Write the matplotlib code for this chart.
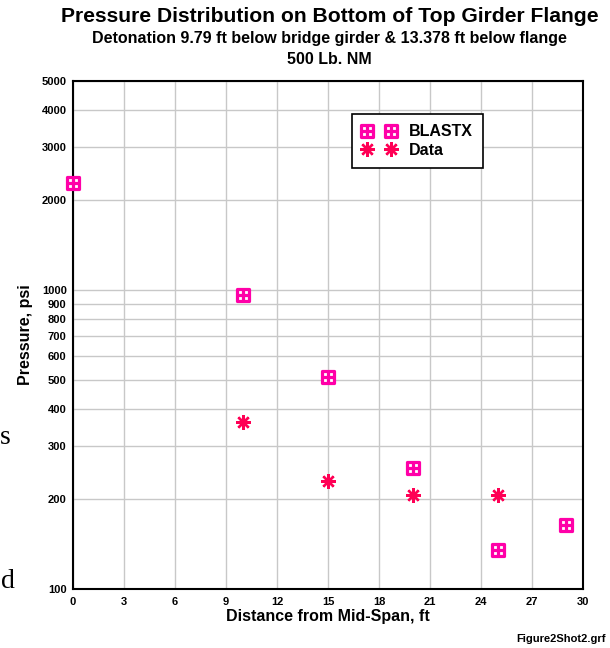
"""Pressure distribution on the bottom of the top girder flange: BLASTX vs. measured data."""

import matplotlib

matplotlib.use("Agg")
import matplotlib.pyplot as plt
from matplotlib.path import Path

# Distance from mid-span (ft) and peak pressure (psi)
blastx_x = [0, 10, 15, 20, 25, 29]
blastx_p = [2285, 962, 511, 254, 135, 164]
data_x = [10, 15, 20, 25]
data_p = [363, 230, 207, 207]

x_ticks = [0, 3, 6, 9, 12, 15, 18, 21, 24, 27, 30]
y_ticks = [100, 200, 300, 400, 500, 600, 700, 800, 900, 1000, 2000, 3000, 4000, 5000]

BLASTX_COLOR = "#ff00a8"
DATA_COLOR = "#ff0055"

plt.rcParams["font.family"] = ["Liberation Sans", "DejaVu Sans"]
plt.rcParams["font.weight"] = "bold"


def grid_square() -> Path:
    """Square with a cross inside, like the BLASTX symbol."""
    verts = [(-1, -1), (1, -1), (1, 1), (-1, 1), (-1, -1),
             (0, -1), (0, 1), (-1, 0), (1, 0)]
    codes = [Path.MOVETO, Path.LINETO, Path.LINETO, Path.LINETO, Path.CLOSEPOLY,
             Path.MOVETO, Path.LINETO, Path.MOVETO, Path.LINETO]
    return Path(verts, codes)


W, H = 610, 648
fig = plt.figure(figsize=(W / 100, H / 100), dpi=100)
ax = fig.add_axes([73 / W, 1 - 589 / H, 510 / W, 508 / H])

# The two series
ax.plot(blastx_x, blastx_p, linestyle="none", marker=grid_square(), markersize=8.2,
        markeredgewidth=2.3, markeredgecolor=BLASTX_COLOR, markerfacecolor="white",
        clip_on=False, zorder=5, label="BLASTX")
ax.plot(data_x, data_p, linestyle="none", marker=(8, 2, 0), markersize=10.5,
        markeredgewidth=1.7, color=DATA_COLOR, clip_on=False, zorder=5, label="Data")

# Axes, ticks and grid
ax.set_yscale("log")
ax.set_xlim(0, 30)
ax.set_ylim(100, 5000)
ax.set_xticks(x_ticks)
ax.set_xticklabels([str(v) for v in x_ticks])
ax.set_yticks(y_ticks)
ax.set_yticklabels([str(v) for v in y_ticks])
ax.yaxis.set_minor_locator(matplotlib.ticker.NullLocator())
ax.tick_params(axis="both", length=0, labelsize=8)
ax.tick_params(axis="x", pad=6)
ax.tick_params(axis="y", pad=4.5)
ax.grid(True, color="#c8c8c8", linewidth=1.0)
ax.set_axisbelow(True)
for spine in ax.spines.values():
    spine.set_linewidth(1.5)
    spine.set_color("black")

ax.set_xlabel("Distance from Mid-Span, ft", fontsize=11.5, fontweight="bold", labelpad=1)
ax.set_ylabel("Pressure, psi", fontsize=11.5, fontweight="bold", labelpad=6)

# Legend with two symbols per entry
leg = ax.legend(loc="upper left", bbox_to_anchor=(0.547, 0.935), borderaxespad=0,
                numpoints=2, handlelength=2.1, handletextpad=0.8, borderpad=0.65,
                labelspacing=0.22, fancybox=False, framealpha=1, edgecolor="black",
                prop={"size": 11.5, "weight": "bold"})
leg.get_frame().set_linewidth(1.2)

# Titles
fig.text(0.54, 1 - 17 / H, "Pressure Distribution on Bottom of Top Girder Flange",
         ha="center", va="center", fontsize=15.2, fontweight="bold")
fig.text(0.54, 1 - 39 / H, "Detonation 9.79 ft below bridge girder & 13.378 ft below flange",
         ha="center", va="center", fontsize=11.5, fontweight="bold")
fig.text(0.54, 1 - 59 / H, "500 Lb. NM", ha="center", va="center", fontsize=11.5,
         fontweight="bold")
fig.text(606 / W, 1 - 639 / H, "Figure2Shot2.grf", ha="right", va="center", fontsize=8,
         fontweight="bold")

# Stray letters from the surrounding page
fig.text(0, 1 - 438 / H, "s", ha="left", va="center", fontsize=20, fontweight="normal",
         family="Liberation Serif")
fig.text(0.002, 1 - 582 / H, "d", ha="left", va="center", fontsize=20, fontweight="normal",
         family="Liberation Serif")

fig.savefig("out.png", dpi=100)
